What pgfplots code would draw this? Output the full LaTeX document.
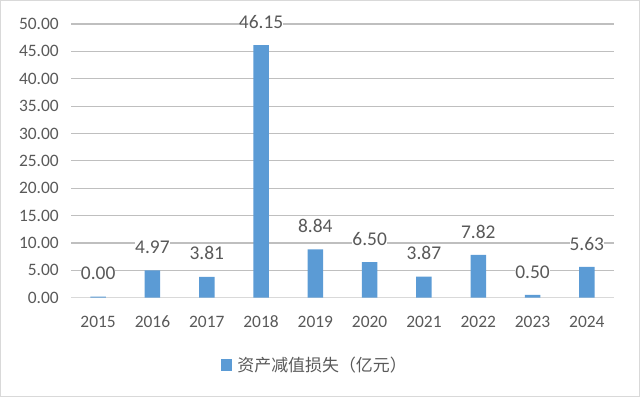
\documentclass[border=0pt]{standalone}
\usepackage{pgfplots}
\pgfplotsset{compat=1.18}
\usepackage{fontspec}
\setmainfont{Carlito}
\newfontfamily\cjk{Noto Sans CJK SC}
\definecolor{barblue}{HTML}{5B9BD5}
\definecolor{txt}{HTML}{595959}
\definecolor{grid}{HTML}{D9D9D9}
\begin{document}
\begin{tikzpicture}[x=1bp,y=1bp]
\path[use as bounding box] (0,0) rectangle (640,397);
\draw[grid, line width=1.2bp] (0.6,0.6) rectangle (639.4,396.4);
\begin{axis}[
  at={(71bp,99.3bp)}, anchor=south west,
  scale only axis, width=543bp, height=273.7bp,
  xmin=-0.5, xmax=9.5, ymin=0, ymax=50,
  ybar, bar width=15.5bp,
  axis line style={draw=none},
  xtick={0,...,9},
  xticklabels={2015,2016,2017,2018,2019,2020,2021,2022,2023,2024},
  ytick={0,5,...,50},
  xmajorgrids=false, ymajorgrids=true, grid style={grid, line width=1.2bp},
  major tick length=0pt, tick style={draw=none},
  /pgf/number format/assume math mode=true,
  yticklabel={\pgfmathprintnumber[fixed,fixed zerofill,precision=2]{\tick}},
  yticklabel style={font=\fontsize{17.5}{20}\selectfont, text=txt, inner sep=0pt, anchor=east, xshift=-12bp},
  xticklabel style={font=\fontsize{17.5}{20}\selectfont, text=txt, inner sep=0pt, anchor=north, yshift=-18bp},
  nodes near coords={\pgfmathprintnumber[fixed,fixed zerofill,precision=2]{\pgfplotspointmeta}},
  point meta=explicit,
  every node near coord/.append style={font=\fontsize{19.5}{22}\selectfont, text=txt, inner sep=0pt, fill=white, anchor=south, yshift=16.5bp},
  legend style={at={(0.449,-0.246)}, anchor=center, draw=none, fill=none,
    font=\cjk\fontsize{17}{20}\selectfont, text=txt, inner sep=0pt,
    /tikz/every even column/.append style={column sep=0bp}},
  legend image code/.code={\fill[barblue] (0bp,-5.8bp) rectangle (11.6bp,5.8bp);},
  legend cell align=left,
]
\draw[grid, line width=1.4bp] (axis cs:-0.5,0) -- (axis cs:9.5,0);
\addplot[fill=barblue, draw=none] coordinates {
(0,0.18)[0.00] (1,4.97)[4.97] (2,3.81)[3.81] (3,46.15)[46.15] (4,8.84)[8.84]
(5,6.50)[6.50] (6,3.87)[3.87] (7,7.82)[7.82] (8,0.50)[0.50] (9,5.63)[5.63]};
\addlegendentry{\hspace{3bp}资产减值损失（亿元）}
\end{axis}
\end{tikzpicture}
\end{document}
